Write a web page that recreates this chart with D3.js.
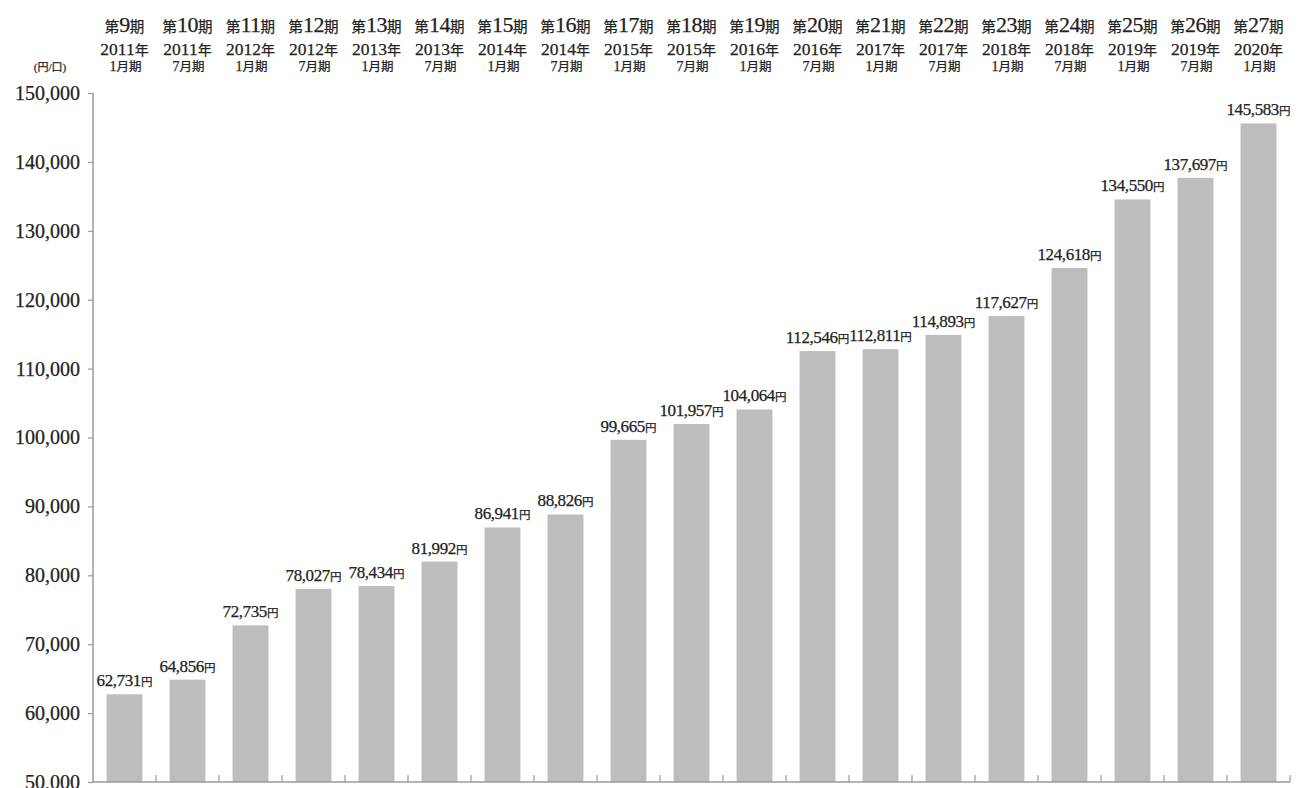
<!DOCTYPE html>
<html>
<head>
<meta charset="utf-8">
<script src="https://cdn.jsdelivr.net/npm/d3@7"></script>
<style>
  html, body { margin: 0; padding: 0; background: #fff; }
  svg { display: block; }
  text { font-family: "Liberation Serif", "Noto Sans CJK JP", serif; fill: #222; stroke: #222; stroke-width: 0.25px; }
</style>
</head>
<body>
<svg id="chart" width="1298" height="788"></svg>
<script>
// ---- data ----
const periods = [9, 10, 11, 12, 13, 14, 15, 16, 17, 18, 19, 20, 21, 22, 23, 24, 25, 26, 27];
const years = [2011, 2011, 2012, 2012, 2013, 2013, 2014, 2014, 2015, 2015, 2016, 2016, 2017, 2017, 2018, 2018, 2019, 2019, 2020];
const months = [1, 7, 1, 7, 1, 7, 1, 7, 1, 7, 1, 7, 1, 7, 1, 7, 1, 7, 1];
const values = [62731, 64856, 72735, 78027, 78434, 81992, 86941, 88826, 99665, 101957, 104064, 112546, 112811, 114893, 117627, 124618, 134550, 137697, 145583];
const yTicks = [50000, 60000, 70000, 80000, 90000, 100000, 110000, 120000, 130000, 140000, 150000];
const unitLabel = "(円/口)";

// ---- layout ----
const svg = d3.select("#chart");
const mLeft = 93, mRight = 1290, mTop = 93, mBottom = 782;
const axisColor = "#9a9a9a";
const barColor = "#bdbdbd";

const x = d3.scaleBand().domain(periods).range([mLeft, mRight]).paddingInner(0.43).paddingOuter(0.215);
const y = d3.scaleLinear().domain([50000, 150000]).range([mBottom, mTop]);
const fmt = d3.format(",");

// bars
svg.append("g").selectAll("rect").data(values).join("rect")
  .attr("x", (d, i) => x(periods[i]))
  .attr("y", d => y(d))
  .attr("width", x.bandwidth())
  .attr("height", d => mBottom - y(d))
  .attr("fill", barColor);

// y axis
const yAxis = svg.append("g").attr("transform", `translate(${mLeft},0)`)
  .call(d3.axisLeft(y).tickValues(yTicks).tickFormat(fmt).tickSize(5).tickPadding(8));
yAxis.select(".domain").attr("stroke", axisColor).attr("stroke-width", 1.5).attr("d", `M0,${mTop}V${mBottom}`);
yAxis.selectAll(".tick line").attr("stroke", axisColor).attr("stroke-width", 1.2);
yAxis.selectAll(".tick text").attr("font-size", 20).attr("fill", "#222")
  .style("font-family", '"Liberation Serif", serif');

// x axis baseline with upward boundary ticks
const step = x.step();
const xAxis = svg.append("g");
xAxis.append("line").attr("x1", mLeft).attr("x2", mRight).attr("y1", mBottom).attr("y2", mBottom)
  .attr("stroke", axisColor).attr("stroke-width", 1.5);
xAxis.selectAll("line.bt").data(periods).join("line").attr("class", "bt")
  .attr("x1", (d) => x(d) + x.bandwidth() / 2 + step / 2)
  .attr("x2", (d) => x(d) + x.bandwidth() / 2 + step / 2)
  .attr("y1", mBottom).attr("y2", mBottom - 7)
  .attr("stroke", axisColor).attr("stroke-width", 1.2);

// unit label
svg.append("text").attr("x", 50).attr("y", 71).attr("text-anchor", "middle")
  .attr("font-size", 11).text(unitLabel);

// header labels (three lines)
const hdr = svg.append("g");
periods.forEach((p, i) => {
  const cx = x(p) + x.bandwidth() / 2;
  const t1 = hdr.append("text").attr("x", cx).attr("y", 32).attr("text-anchor", "middle");
  t1.append("tspan").attr("font-size", 14.5).text("第");
  t1.append("tspan").attr("font-size", 22).attr("letter-spacing", -0.5).text(p);
  t1.append("tspan").attr("font-size", 14.5).text("期");
  const t2 = hdr.append("text").attr("x", cx).attr("y", 55).attr("text-anchor", "middle");
  t2.append("tspan").attr("font-size", 17.5).text(years[i]);
  t2.append("tspan").attr("font-size", 14).text("年");
  const t3 = hdr.append("text").attr("x", cx + 1).attr("y", 71).attr("text-anchor", "middle");
  t3.append("tspan").attr("font-size", 14).text(months[i]);
  t3.append("tspan").attr("font-size", 12.5).text("月期");
});

// value labels
const lbl = svg.append("g");
values.forEach((v, i) => {
  const cx = x(periods[i]) + x.bandwidth() / 2;
  const t = lbl.append("text").attr("x", cx).attr("y", y(v) - 8).attr("text-anchor", "middle");
  t.append("tspan").attr("font-size", 17).attr("letter-spacing", -0.4).text(fmt(v));
  t.append("tspan").attr("font-size", 11.5).text("円");
});
</script>
</body>
</html>
